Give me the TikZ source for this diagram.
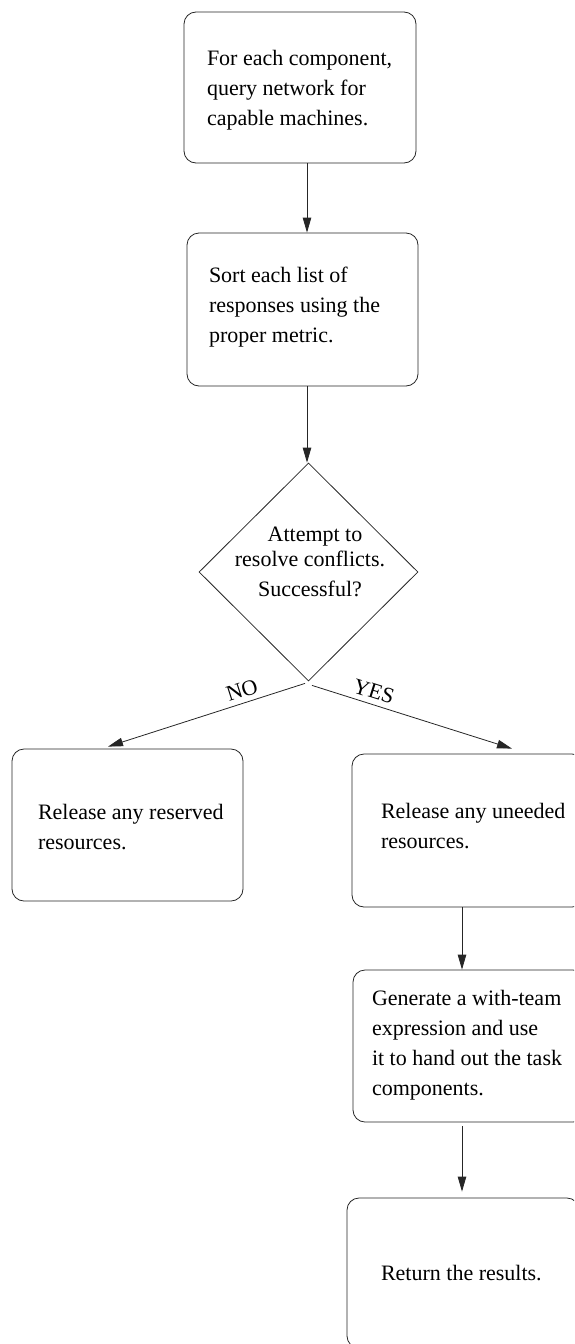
\documentclass[tikz,border=0pt]{standalone}
\usepackage{fontspec}
\setmainfont{Liberation Serif}
\usetikzlibrary{shapes.geometric,arrows.meta}
\newcommand\bxt[3]{\makebox[#1][l]{\raisebox{#2}[\height][\depth]{\begin{tabular}{@{}l@{}}#3\end{tabular}}}}
\begin{document}
\begin{tikzpicture}[x=1pt,y=-1pt,
  every node/.style={font=\fontsize{22}{30}\selectfont},
  box/.style={draw=black!85, rounded corners=12pt, line width=0.8pt, inner ysep=0pt},
  dia/.style={draw=black!85, diamond, aspect=1, line width=0.8pt, inner sep=0pt},
  arr/.style={draw=black!85, -{Triangle[length=15pt,width=8.5pt]}, line width=0.8pt},
  lbl/.style={sloped, above, inner xsep=0pt, inner ysep=5pt}]
\useasboundingbox (0,0) rectangle (574,1344);
\clip (0,0) rectangle (574,1344);

\node[box, inner xsep=23pt, minimum height=151pt] (b1) at (300,87.5)
  {\bxt{186pt}{-1.5pt}{For each component,\\query network for\\capable machines.}};
\node[box, inner xsep=22pt, minimum height=153pt] (b2) at (302.5,309.5)
  {\bxt{187pt}{3.5pt}{Sort each list of\\responses using the\\proper metric.}};
\node[dia, minimum width=219pt, minimum height=218pt] (d) at (308.5,572)
  {\makebox[0pt]{\hspace*{3pt}\raisebox{9.5pt}[\height][\depth]{\begin{tabular}{@{}c@{}}\hspace*{10pt}Attempt to\\[-5pt]resolve conflicts.\\Successful?\end{tabular}}}};
\node[box, inner xsep=26pt, minimum height=152pt] (nb) at (127.5,825)
  {\bxt{179pt}{-3pt}{Release any reserved\\resources.}};
\node[box, inner xsep=29pt, minimum height=153pt] (ry) at (468,830.5)
  {\bxt{174pt}{3.5pt}{Release any uneeded\\resources.}};
\node[box, inner xsep=19pt, minimum height=152pt] (b3) at (469,1046)
  {\bxt{194pt}{2pt}{Generate a with-team\\expression and use\\it to hand out the task\\components.}};
\node[box, inner xsep=34pt, minimum height=150pt] (rr) at (463,1273)
  {\bxt{164pt}{-1pt}{Return the results.}};

\draw[arr] ([xshift=7pt]b1.south) -- ([xshift=4.5pt]b2.north);
\draw[arr] ([xshift=4.5pt]b2.south) -- ([xshift=-1.5pt]d.north);
\draw[arr] ([xshift=-3.5pt,yshift=-2pt]d.south) -- node[lbl,pos=0.3] {NO} ([xshift=-19.5pt,yshift=2pt]nb.north);
\draw[arr] ([xshift=3.5pt,yshift=-4pt]d.south) -- node[lbl,pos=0.29] {YES} ([xshift=44pt,yshift=5pt]ry.north);
\draw[arr] ([xshift=-6pt]ry.south) -- ([xshift=-7pt]b3.north);
\draw[arr] ([xshift=-7pt,yshift=-4pt]b3.south) -- ([xshift=-1pt,yshift=6pt]rr.north);
\end{tikzpicture}
\end{document}
